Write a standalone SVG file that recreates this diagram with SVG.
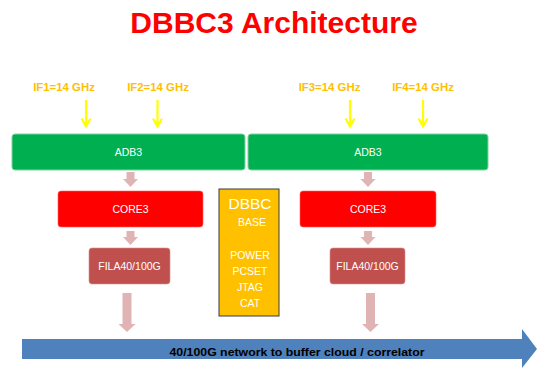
<svg xmlns="http://www.w3.org/2000/svg" width="537" height="369" viewBox="0 0 537 369">
<style>
text{font-family:"Liberation Sans",Arial,sans-serif}
.title{font-size:30px;font-weight:bold;fill:#FF0000;text-anchor:middle}
.iflbl{font-size:11.4px;font-weight:bold;fill:#FFC000;text-anchor:middle}
.wl{font-size:10.5px;fill:#FFFFFF;text-anchor:middle}
.adb{fill:#00B050;stroke:#7FD3A0;stroke-width:1}
.core{fill:#FF0000;stroke:#FF6060;stroke-width:0.6}
.fila{fill:#C0504D;stroke:#D88E8C;stroke-width:0.6}
.pink{fill:#E0B4B4}
.yarr{stroke:#FFFF00;stroke-width:2.2;fill:none}
.net{font-size:11.5px;font-weight:bold;fill:#000000;text-anchor:middle}
</style>
<text class="title" x="274" y="33">DBBC3 Architecture</text>
<g id="if1"><text class="iflbl" x="64" y="91">IF1=14 GHz</text></g>
<g id="if2"><text class="iflbl" x="158" y="91">IF2=14 GHz</text></g>
<g id="if3"><text class="iflbl" x="329.5" y="91">IF3=14 GHz</text></g>
<g id="if4"><text class="iflbl" x="423" y="91">IF4=14 GHz</text></g>
<g id="adb3-left"><rect class="adb" x="12" y="134" width="233" height="36" rx="3"/><text class="wl" x="128.5" y="156">ADB3</text></g>
<g id="adb3-right"><rect class="adb" x="248" y="134" width="240" height="36" rx="3"/><text class="wl" x="368" y="156">ADB3</text></g>
<g id="core3-left"><rect class="core" x="58" y="191" width="145" height="36" rx="3"/><text class="wl" x="130.5" y="213">CORE3</text></g>
<g id="core3-right"><rect class="core" x="300" y="191" width="136" height="36" rx="3"/><text class="wl" x="368" y="213">CORE3</text></g>
<g id="fila-left"><rect class="fila" x="89" y="248" width="81" height="36" rx="3"/><text class="wl" x="129.5" y="270">FILA40/100G</text></g>
<g id="fila-right"><rect class="fila" x="330" y="248" width="75" height="36" rx="3"/><text class="wl" x="367.5" y="270">FILA40/100G</text></g>
<g id="dbbc-base">
<rect x="219" y="189" width="60" height="127" fill="#FFC000" stroke="#3A3A3A" stroke-width="1"/>
<text x="250" y="209" style="font-size:15.5px;fill:#FFFFFF;text-anchor:middle">DBBC</text>
<text class="wl" x="252" y="226">BASE</text>
<text class="wl" x="250" y="259">POWER</text>
<text class="wl" x="250" y="275">PCSET</text>
<text class="wl" x="250" y="291">JTAG</text>
<text class="wl" x="250" y="307">CAT</text>
</g>
<g id="network">
<polygon points="22,339 522,339 522,329 537,349 522,368 522,359 22,359" fill="#4F81BD"/>
<text class="net" x="297" y="356" textLength="255" lengthAdjust="spacingAndGlyphs">40/100G network to buffer cloud / correlator</text>
</g>
<g id="connectors">
<path class="yarr" d="M86,100V126M81.5,118.5L86,126.5L90.5,118.5"/>
<path class="yarr" d="M157.5,100V126M153,118.5L157.5,126.5L162,118.5"/>
<path class="yarr" d="M350,100V126M345.5,118.5L350,126.5L354.5,118.5"/>
<path class="yarr" d="M423,100V126M418.5,118.5L423,126.5L427.5,118.5"/>
<polygon class="pink" points="126.5,172 134.5,172 134.5,179 138,179 130.5,187 123,179 126.5,179"/>
<polygon class="pink" points="364,172 372,172 372,179 375.5,179 368,187 360.5,179 364,179"/>
<polygon class="pink" points="126.5,231 134.5,231 134.5,237 138,237 130.5,245 123,237 126.5,237"/>
<polygon class="pink" points="364,231 372,231 372,237 375.5,237 368,245 360.5,237 364,237"/>
<polygon class="pink" points="122.5,293 131.5,293 131.5,324 135.5,324 127,332 118.5,324 122.5,324"/>
<polygon class="pink" points="366,293 375,293 375,324 379,324 370.5,332 362,324 366,324"/>
</g>
</svg>
